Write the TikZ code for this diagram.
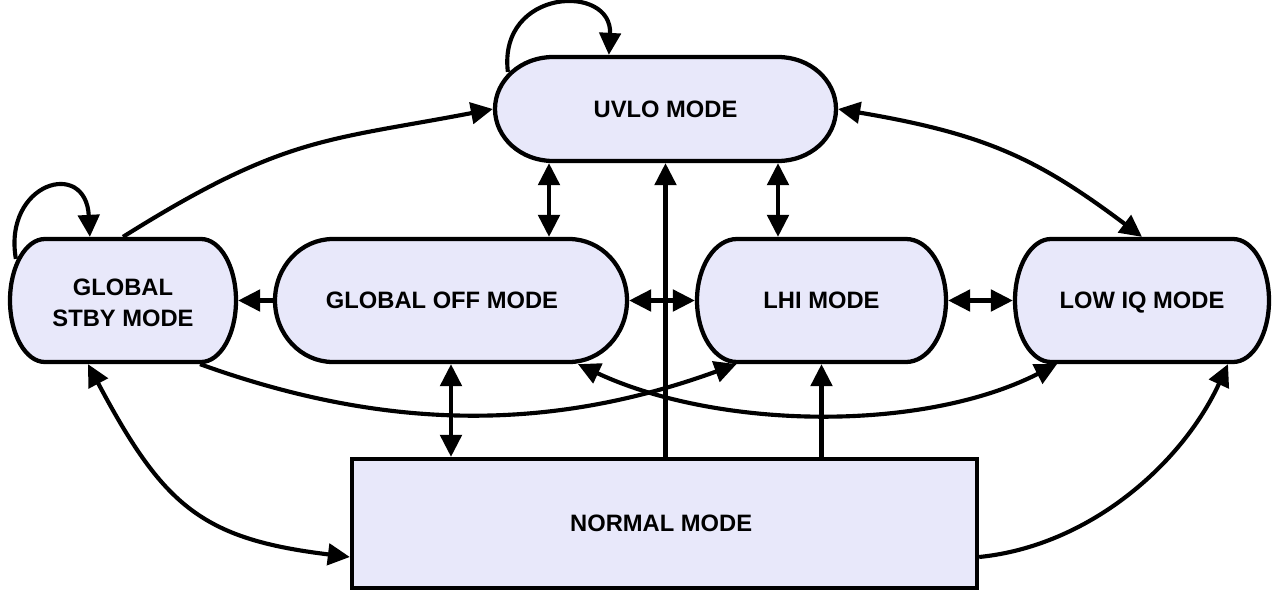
\documentclass[tikz,border=0pt]{standalone}
\usepackage{fontspec}
\setmainfont{Liberation Sans}
\usetikzlibrary{arrows.meta,calc}
\definecolor{modefill}{RGB}{232,232,250}
\tikzset{
  boxline/.style={line width=3.2pt, draw=black, fill=modefill},
  modetext/.style={inner sep=0pt, outer sep=1.6pt, rectangle, font=\bfseries\fontsize{17.8}{22.9}\selectfont},
  link/.style={line width=3.1pt},
  onehead/.style={-{Triangle[length=16.5pt,width=16pt]}},
  twohead/.style={{Triangle[length=16.5pt,width=16pt]}-{Triangle[length=16.5pt,width=16pt]}},
}
% [#1 node options], #2 name, #3 cx, #4 cy (pixels, downwards), #5 width, #6 height, #7 end radius, #8 text
\newcommand\modebox[8][]{%
  \filldraw[boxline] (#3-#5/2+#7, -#4+#6/2) -- (#3+#5/2-#7, -#4+#6/2)
     arc[start angle=90, end angle=-90, x radius=#7, y radius=#6/2]
     -- (#3-#5/2+#7, -#4-#6/2)
     arc[start angle=270, end angle=90, x radius=#7, y radius=#6/2] -- cycle;
  \node[modetext, minimum width=#5*0.75pt, minimum height=#6*0.75pt, #1] (#2) at (#3,-#4) {#8};
}
\begin{document}
\begin{tikzpicture}[x=0.75pt,y=0.75pt]
\useasboundingbox (0,0) rectangle (1279,-593);

\modebox{uvlo}{665.5}{109}{341}{104}{58}{UVLO MODE}
\modebox{stby}{123}{300.5}{226}{123}{35}{\begin{tabular}{@{}c@{}}\rule{0pt}{23pt}GLOBAL\\STBY MODE\end{tabular}}
\modebox{goff}{451}{300.5}{352}{123}{58}{\kern-13.5pt GLOBAL OFF MODE}
\modebox{lhi}{821.5}{300.5}{249}{123}{40}{LHI MODE}
\modebox[text depth=0pt]{lowiq}{1142}{300.5}{254}{123}{36}{LOW IQ MODE}
\node[modetext, draw, fill=modefill, line width=3.2pt, minimum width=625*0.75pt, minimum height=129*0.75pt] (normal) at (664.5,-523.5) {\kern-5pt NORMAL MODE};

% self loops
\draw[link,onehead] ($(stby.north west)+(8,-22)$) .. controls +(-13,76) and +(-4,79) .. ($(stby.north west)+(82,0)$);
\draw[link,onehead] ($(uvlo.north west)+(15,-17)$) .. controls +(-10,84) and +(4,72) .. ($(uvlo.north west)+(116,0)$);

% long curves
\draw[link,onehead] (stby.north) .. controls +(161,101) and +(-167,-32) .. (uvlo.west);
\draw[link,twohead] (uvlo.east) .. controls +(148,-25) and +(-104,78) .. (lowiq.north);
\draw[link,twohead] ($(stby.south)+(-35,0)$) .. controls +(75,-141) and +(-149,18) .. ($(normal.west)+(0,-33.5)$);
\draw[link,onehead] ($(normal.east)+(0,-33.5)$) .. controls +(110,11) and +(-46,-100) .. ($(lowiq.south)+(86,0)$);
\draw[link,onehead] ($(stby.south)+(77,0)$) .. controls +(186,-67) and +(-187,-68) .. ($(lhi.south)+(-85,0)$);
\draw[link,twohead] ($(goff.south)+(127,0)$) .. controls +(139,-65) and +(-136,-69) .. ($(lowiq.south)+(-85,0)$);

% vertical connectors
\draw[link,twohead] ($(goff.north)+(98,0)$) -- ($(uvlo.south)+(-116.5,0)$);
\draw[link,twohead] ($(lhi.north)+(-43.5,0)$) -- ($(uvlo.south)+(112.5,0)$);
\draw[link,onehead] (normal.north -| uvlo.south) -- (uvlo.south);
\draw[link,onehead] (normal.north -| lhi.south) -- (lhi.south);
\draw[link,twohead] (goff.south) -- (goff.south |- normal.north);

% horizontal connectors
\draw[link,onehead] (goff.west) -- (stby.east);
\draw[link,twohead] (goff.east) -- (lhi.west);
\draw[link,twohead] (lhi.east) -- (lowiq.west);
\end{tikzpicture}
\end{document}
